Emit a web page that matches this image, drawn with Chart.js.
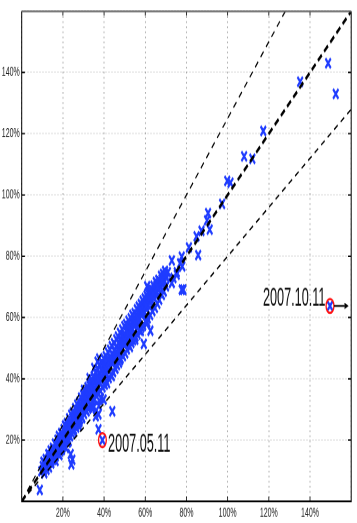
<!DOCTYPE html>
<html>
<head>
<meta charset="utf-8">
<script src="https://cdn.jsdelivr.net/npm/chart.js@4.4.1/dist/chart.umd.min.js"></script>
<style>
html{overflow:hidden}
body{margin:0;padding:0;background:#fff;width:357px;height:523px}
#wrap{width:357px;height:290px;transform:scaleY(1.8034);transform-origin:0 0}
</style>
</head>
<body>
<div id="wrap"><canvas id="chart"></canvas></div>
<script>
"use strict"

// tick values (percent)
var xTicks=[20,40,60,80,100,120,140]
var yTicks=[20,40,60,80,100,120,140]
// reference lines y = k*x
var lineSlopes=[1,1.25,0.8]
// flagged dates
var flagDates=["2007.05.11","2007.10.11"]
var flagX=[39.2,149.7]
var flagY=[20.0,63.8]

// observations [x%, y%]
var points=[
[8.8,3.7],[9.5,9.8],[10.2,11.5],[10.8,10.1],[11.3,12.4],[11.9,11.2],[12.4,13.5],[12.6,11.8],[13.1,14.2],[13.5,12.6],
[13.8,15.1],[14.2,13.9],[14.6,14.8],[14.9,16.3],[15.3,15.2],[15.7,17.1],[15.9,14.6],[16.4,16.8],[16.8,18.2],[17.1,16.1],
[17.5,19.0],[17.8,17.6],[18.2,18.9],[18.6,20.3],[18.9,17.9],[19.3,19.8],[19.7,21.4],[20.1,19.2],[20.4,20.9],[20.8,22.6],
[21.2,21.3],[16.5,13.2],[18.4,15.1],[19.6,16.8],[21.5,17.4],[22.9,19.6],[24.1,12.1],[24.6,13.6],[23.8,15.4],[22.4,19.2],
[21.6,23.5],[22.0,21.8],[22.3,24.6],[22.7,22.9],[23.1,25.3],[23.4,23.6],[23.8,26.1],[24.2,24.4],[24.5,27.2],[24.9,25.1],
[25.3,26.8],[25.6,28.5],[26.0,26.2],[26.3,27.9],[26.7,29.6],[27.1,27.4],[27.4,30.2],[27.8,28.6],[28.2,31.1],[28.5,29.3],
[28.9,30.8],[29.3,32.4],[29.6,30.1],[30.0,31.7],[30.4,33.5],[26.5,24.1],[28.1,25.9],[29.4,27.2],[25.2,22.8],[27.6,24.8],
[30.7,32.0],[31.1,34.2],[31.4,31.5],[31.8,33.6],[32.2,35.4],[32.5,32.9],[32.9,34.8],[33.3,36.6],[33.6,33.8],[34.0,35.9],
[34.4,37.8],[34.7,35.1],[35.1,36.9],[35.5,39.0],[35.8,36.3],[36.2,38.2],[36.6,40.1],[36.9,37.4],[37.3,39.3],[37.7,41.4],
[38.0,38.6],[38.4,40.5],[38.8,42.6],[39.1,39.8],[39.5,41.7],[39.9,43.5],[35.2,43.5],[36.8,45.6],[37.5,31.2],[38.5,33.7],
[34.2,30.5],[37.3,28.4],[37.3,23.5],[34.4,30.5],[44.0,29.4],[32.9,40.2],[37.6,46.6],[30.2,36.4],[33.8,31.2],[31.6,29.4],
[40.2,42.1],[40.6,44.3],[40.9,41.2],[41.3,43.5],[41.7,45.6],[42.0,42.8],[42.4,44.9],[42.8,47.0],[43.1,43.9],[43.5,46.2],
[43.9,48.1],[44.2,45.0],[44.6,47.3],[45.0,49.4],[45.3,46.5],[45.7,48.6],[46.1,50.5],[46.4,47.6],[46.8,49.8],[47.2,51.7],
[47.5,48.9],[47.9,50.9],[48.3,52.8],[48.6,50.1],[49.0,52.2],[49.4,54.0],[49.7,51.3],[41.5,38.6],[43.8,40.9],[45.6,43.3],
[47.8,46.1],[50.1,53.4],[50.5,51.8],[50.9,55.2],[51.3,53.0],[51.6,56.1],[52.0,54.2],[52.4,57.0],[52.8,55.1],[53.1,56.5],
[53.5,58.3],[53.9,56.2],[54.3,57.9],[54.6,59.6],[55.0,57.4],[55.4,59.1],[55.8,60.8],[56.1,58.6],[56.5,60.3],[56.9,61.9],
[57.3,59.7],[57.6,61.5],[58.0,63.0],[58.4,60.9],[58.8,62.6],[59.1,64.1],[59.5,62.0],[59.9,63.7],[52.6,50.4],[55.2,52.8],
[57.9,55.6],[60.3,65.2],[60.7,62.8],[61.1,66.4],[61.4,64.1],[61.8,67.3],[62.2,65.0],[62.6,68.1],[63.0,65.9],[63.3,67.0],
[63.7,68.9],[64.1,66.7],[64.5,69.5],[64.9,67.6],[65.3,70.3],[65.7,68.4],[66.1,71.0],[66.5,69.2],[67.0,71.8],[67.4,70.1],
[67.9,72.5],[68.3,71.0],[68.8,73.2],[69.3,72.0],[69.8,74.1],[70.4,73.0],[71.0,74.8],[72.9,78.6],[73.7,72.9],[75.3,74.8],
[76.9,77.7],[78.0,76.7],[72.9,71.3],[77.7,69.1],[60.9,70.2],[78.5,69.1],[75.3,74.0],[67.3,68.1],[62.5,55.7],[59.3,51.4],
[61.0,58.4],[77.7,79.9],[81.2,82.9],[85.7,80.4],[84.9,86.5],[87.3,88.3],[91.3,88.7],[90.0,91.7],[90.5,94.1],[97.3,97.1],
[99.8,104.6],[101.4,104.0],[108.0,112.6],[112.0,111.8],[117.3,120.9],[135.2,137.0],[148.8,143.0],[152.5,133.0],
[39.2,20.0],[149.7,63.8],
[10.5,12.9],[11.0,9.2],[11.6,13.8],[12.1,10.3],[12.9,15.4],[13.3,11.1],[14.0,16.6],[14.4,12.4],[15.1,17.5],[15.5,13.6],
[16.1,18.9],[16.6,14.7],[17.3,20.1],[17.7,15.6],[18.0,21.4],[18.8,16.4],[19.1,22.3],[19.9,17.6],[20.3,23.6],[20.6,18.5],
[21.0,24.8],[21.4,19.6],[21.9,25.6],[22.5,20.4],[23.0,27.1],[23.5,21.2],[24.0,28.3],[24.4,22.1],[24.8,29.0],[25.4,23.4],
[25.9,30.4],[26.4,24.9],[26.9,31.6],[27.3,25.6],[27.9,32.5],[28.4,26.8],[28.8,33.9],[29.2,27.6],[29.8,34.8],[30.3,28.5],
[30.9,36.1],[31.3,29.6],[31.9,37.3],[32.4,30.3],[32.8,38.6],[33.4,31.4],[33.9,39.7],[34.3,32.6],[34.9,40.9],[35.3,33.2],
[35.9,42.1],[36.4,34.4],[36.9,43.2],[37.2,35.3],[37.9,44.6],[38.2,36.1],[38.9,45.5],[39.3,37.2],[39.8,46.6],[40.4,38.1],
[40.8,47.4],[41.1,39.4],[41.9,48.6],[42.3,40.2],[42.9,49.5],[43.3,41.3],[43.7,50.7],[44.4,42.2],[44.8,51.6],[45.2,43.6],
[45.9,52.9],[46.3,44.5],[46.7,53.8],[47.3,45.2],[47.7,55.0],[48.1,46.6],[48.8,56.1],[49.2,47.4],[49.8,57.2],[50.3,48.3],
[50.7,57.9],[51.1,49.6],[51.8,59.0],[52.2,50.9],[52.9,59.8],[53.3,51.7],[53.7,60.9],[54.1,52.6],[54.8,61.5],[55.3,53.8],
[55.9,62.7],[56.3,54.5],[56.8,63.6],[57.1,55.9],[57.8,64.4],[58.2,56.8],[58.7,65.5],[59.0,57.4],[59.7,66.3],[60.1,58.6],
[60.6,67.2],[61.2,59.7],[61.7,68.0],[62.4,60.8],[62.9,69.1],[63.5,62.1],[64.0,70.4],[64.7,63.2],[65.1,71.6],[65.9,64.5],
[66.3,72.3],[66.8,65.8],[67.6,73.6],[68.1,67.4],[68.6,74.3],[69.0,68.5],[69.6,75.2],[70.1,70.2],
[12.2,12.6],[14.8,15.6],[17.0,17.3],[19.0,20.7],[21.8,22.7],[23.6,24.9],[25.8,27.0],[27.2,28.9],[29.0,31.3],[30.6,31.0],
[31.9,32.8],[33.1,35.5],[34.6,36.2],[36.0,37.6],[37.0,39.9],[38.6,39.6],[39.7,42.3],[41.0,43.0],[42.6,45.8],[44.0,46.2],
[45.5,47.8],[47.0,49.2],[48.5,51.5],[50.0,52.6],[51.5,54.6],[53.2,55.8],[54.9,58.4],[56.6,59.4],[58.6,61.7],[60.5,64.0],
[62.0,66.2],[63.9,67.8],[66.0,69.9],[68.0,72.0],[36.0,27.8],[35.1,30.9],[39.8,33.2]
]

var blue='#1f3cff'

var datasets=lineSlopes.map(function(k,i){
	// end of each line where it leaves the 0..160 box
	var end=k>=1?{x:160/k,y:160}:{x:160,y:160*k}
	return {
		type:'line',
		data:[{x:0,y:0},end],
		borderColor:'#000',
		borderWidth:i==0?1.9:1,
		borderDash:i==0?[5,3]:[4.2,3.6],
		pointRadius:0,
		fill:false
	}
})
datasets.push({
	type:'scatter',
	data:points.map(function(p){return {x:p[0],y:p[1]}}),
	pointStyle:'crossRot',
	pointRadius:3.8,
	pointBorderWidth:1.8,
	borderColor:blue,
	backgroundColor:blue
})

var decor={
	id:'decor',
	afterDatasetsDraw:function(chart){
		var ctx=chart.ctx, a=chart.chartArea, xs=chart.scales.x, ys=chart.scales.y
		ctx.save()
		// inner tick marks on all four sides
		ctx.strokeStyle='#000'
		ctx.lineWidth=0.8
		ctx.beginPath()
		xTicks.forEach(function(v){
			var px=xs.getPixelForValue(v)
			ctx.moveTo(px,a.bottom);ctx.lineTo(px,a.bottom-2.6)
			ctx.moveTo(px,a.top);ctx.lineTo(px,a.top+2.6)
		})
		yTicks.forEach(function(v){
			var py=ys.getPixelForValue(v)
			ctx.moveTo(a.left,py);ctx.lineTo(a.left+3.2,py)
			ctx.moveTo(a.right,py);ctx.lineTo(a.right-3.2,py)
		})
		ctx.stroke()
		// box
		ctx.lineWidth=1
		ctx.beginPath()
		ctx.moveTo(a.left,a.top);ctx.lineTo(a.left,a.bottom);ctx.lineTo(a.right,a.bottom);ctx.lineTo(a.right,a.top)
		ctx.stroke()
		ctx.strokeStyle='#666'
		ctx.beginPath();ctx.moveTo(a.left,a.top);ctx.lineTo(a.right,a.top);ctx.stroke()
		// flagged points
		ctx.font='13.2px "Liberation Sans", Arial, sans-serif'
		ctx.fillStyle='#111'
		ctx.textBaseline='middle'
		flagDates.forEach(function(d,i){
			var px=xs.getPixelForValue(flagX[i]), py=ys.getPixelForValue(flagY[i])
			ctx.strokeStyle='#ff1010'
			ctx.lineWidth=1.3
			ctx.beginPath();ctx.arc(px,py,3.9,0,Math.PI*2);ctx.stroke()
			ctx.save()
			if(i==0){
				ctx.textAlign='left'
				ctx.translate(px+5.6,py+2.4)
			}else{
				ctx.textAlign='right'
				ctx.translate(px-4.6,py-4.3)
			}
			ctx.scale(0.96,1.13)
			ctx.fillText(d,0,0)
			ctx.restore()
			if(i==1){
				// arrow pointing off the chart
				ctx.strokeStyle='#000'
				ctx.lineWidth=0.9
				ctx.beginPath()
				ctx.moveTo(px+4,py);ctx.lineTo(px+17.5,py)
				ctx.moveTo(px+14.5,py-1.3);ctx.lineTo(px+17.5,py);ctx.lineTo(px+14.5,py+1.3)
				ctx.stroke()
			}
		})
		ctx.restore()
	}
}

var tickFont={family:'"Liberation Sans", Arial, sans-serif',size:7}
function pct(v){return v>0&&v<160?v+'%':''}

new Chart(document.getElementById('chart'),{
	data:{datasets:datasets},
	plugins:[decor],
	options:{
		responsive:true,
		maintainAspectRatio:false,
		devicePixelRatio:2,
		animation:false,
		layout:{padding:{top:2.5,right:2.4,left:0,bottom:0}},
		plugins:{legend:{display:false},tooltip:{enabled:false}},
		scales:{
			x:{
				type:'linear',min:0,max:160,
				ticks:{stepSize:20,callback:pct,font:tickFont,color:'#222',padding:2.6,maxRotation:0},
				grid:{color:'rgba(0,0,0,0.3)',lineWidth:1,drawTicks:false},
				border:{display:false,dash:[1,1.8]},
				afterFit:function(s){s.height=12}
			},
			y:{
				type:'linear',min:0,max:160,
				ticks:{stepSize:20,callback:pct,font:tickFont,color:'#222',padding:2},
				grid:{color:'rgba(0,0,0,0.3)',lineWidth:0.6,drawTicks:false},
				border:{display:false,dash:[1,2]},
				afterFit:function(s){s.width=21.7}
			}
		}
	}
})
</script>
</body>
</html>
